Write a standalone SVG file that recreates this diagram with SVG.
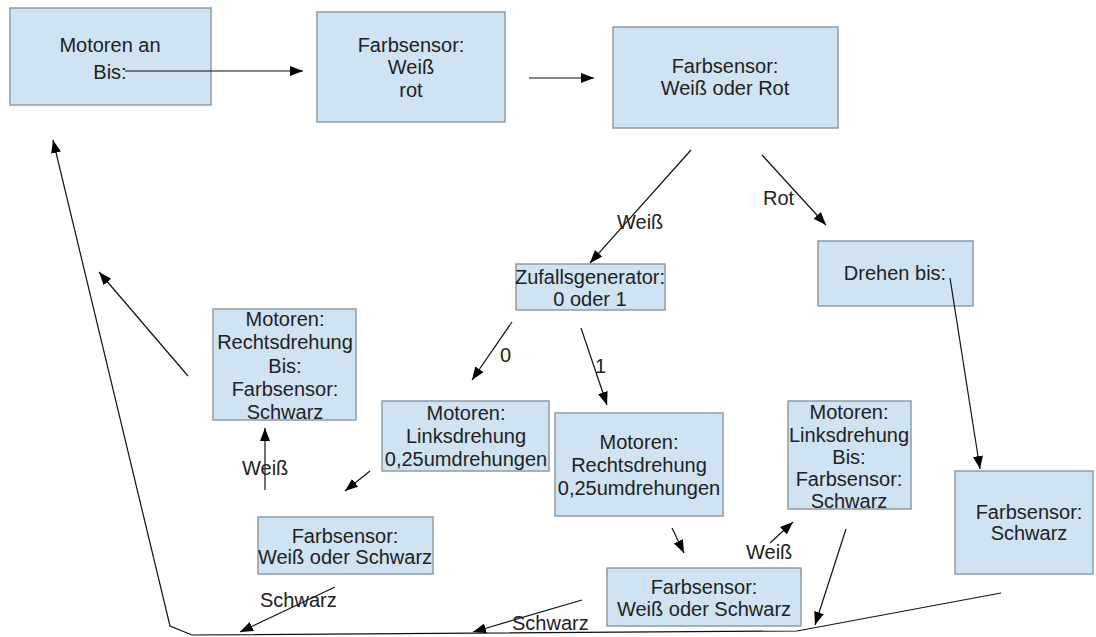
<svg xmlns="http://www.w3.org/2000/svg" width="1096" height="637" viewBox="0 0 1096 637">
<style>
.box{fill:#cfe3f2;stroke:#8e9ca6;stroke-width:1.5}
text{font-family:"Liberation Sans",Arial,sans-serif;font-size:20px;fill:#222}
.c{text-anchor:middle}
.ln{stroke:#111;stroke-width:1.2;fill:none}
</style>
<defs>
<marker id="ah" markerUnits="userSpaceOnUse" markerWidth="14" markerHeight="12" refX="13" refY="5" orient="auto">
<path d="M0,0 L13,5 L0,10 Z" fill="#000"/>
</marker>
</defs>
<rect width="1096" height="637" fill="#fff"/>
<g id="n1"><rect class="box" x="10" y="8" width="201" height="97"/><text class="c" x="110" y="52">Motoren an</text><text class="c" x="110" y="79">Bis:</text></g>
<g id="n2"><rect class="box" x="317" y="12" width="188" height="110"/><text class="c" x="411" y="52">Farbsensor:</text><text class="c" x="411" y="74">Weiß</text><text class="c" x="411" y="97">rot</text></g>
<g id="n3"><rect class="box" x="613" y="27" width="225" height="101"/><text class="c" x="725" y="73">Farbsensor:</text><text class="c" x="725" y="95">Weiß oder Rot</text></g>
<g id="n4"><rect class="box" x="516" y="264" width="149" height="46"/><text class="c" x="590" y="284">Zufallsgenerator:</text><text class="c" x="590" y="306">0 oder 1</text></g>
<g id="n5"><rect class="box" x="818" y="241" width="155" height="65"/><text class="c" x="895" y="280">Drehen bis:</text></g>
<g id="n6"><rect class="box" x="213" y="309" width="143" height="111"/><text class="c" x="285" y="326">Motoren:</text><text class="c" x="285" y="349">Rechtsdrehung</text><text class="c" x="285" y="373">Bis:</text><text class="c" x="285" y="396">Farbsensor:</text><text class="c" x="285" y="419">Schwarz</text></g>
<g id="n7"><rect class="box" x="382" y="401" width="167" height="70"/><text class="c" x="466" y="420">Motoren:</text><text class="c" x="466" y="443">Linksdrehung</text><text class="c" x="466" y="466">0,25umdrehungen</text></g>
<g id="n8"><rect class="box" x="555" y="413" width="168" height="103"/><text class="c" x="639" y="449">Motoren:</text><text class="c" x="639" y="472">Rechtsdrehung</text><text class="c" x="639" y="495">0,25umdrehungen</text></g>
<g id="n9"><rect class="box" x="788" y="401" width="123" height="108"/><text class="c" x="849" y="419">Motoren:</text><text class="c" x="849" y="442">Linksdrehung</text><text class="c" x="849" y="464">Bis:</text><text class="c" x="849" y="486">Farbsensor:</text><text class="c" x="849" y="508">Schwarz</text></g>
<g id="n10"><rect class="box" x="955" y="471" width="138" height="103"/><text class="c" x="1029" y="519">Farbsensor:</text><text class="c" x="1029" y="540">Schwarz</text></g>
<g id="n11"><rect class="box" x="258" y="517" width="175" height="57"/><text class="c" x="345" y="543">Farbsensor:</text><text class="c" x="345" y="564">Weiß oder Schwarz</text></g>
<g id="n12"><rect class="box" x="607" y="568" width="194" height="58"/><text class="c" x="704" y="594">Farbsensor:</text><text class="c" x="704" y="616">Weiß oder Schwarz</text></g>
<g id="connectors">
<line class="ln" x1="125" y1="71" x2="303" y2="71" marker-end="url(#ah)"/>
<line class="ln" x1="529" y1="78" x2="594" y2="78" marker-end="url(#ah)"/>
<line class="ln" x1="691" y1="150" x2="590" y2="263" marker-end="url(#ah)"/>
<line class="ln" x1="762" y1="155" x2="826" y2="225" marker-end="url(#ah)"/>
<line class="ln" x1="512" y1="322" x2="472" y2="380" marker-end="url(#ah)"/>
<line class="ln" x1="581" y1="328" x2="607" y2="405" marker-end="url(#ah)"/>
<line class="ln" x1="370" y1="471" x2="345" y2="491" marker-end="url(#ah)"/>
<line class="ln" x1="265" y1="490" x2="265" y2="428" marker-end="url(#ah)"/>
<line class="ln" x1="188" y1="376" x2="99" y2="272" marker-end="url(#ah)"/>
<line class="ln" x1="672" y1="528" x2="684" y2="553" marker-end="url(#ah)"/>
<line class="ln" x1="770" y1="543" x2="793" y2="522" marker-end="url(#ah)"/>
<line class="ln" x1="846" y1="529" x2="815" y2="625" marker-end="url(#ah)"/>
<line class="ln" x1="950" y1="278" x2="980" y2="469" marker-end="url(#ah)"/>
<line class="ln" x1="335" y1="587" x2="240" y2="632" marker-end="url(#ah)"/>
<line class="ln" x1="582" y1="600" x2="473" y2="632" marker-end="url(#ah)"/>
<polyline class="ln" points="1001,593 797,631 192,635 170,626 53,140" stroke-width="1.5" marker-end="url(#ah)"/>
<text x="617" y="229">Weiß</text>
<text x="763" y="205">Rot</text>
<text x="500" y="362">0</text>
<text x="595" y="373">1</text>
<text x="242" y="475">Weiß</text>
<text x="746" y="559">Weiß</text>
<text x="260" y="607">Schwarz</text>
<text x="512" y="630">Schwarz</text>
</g>
</svg>
